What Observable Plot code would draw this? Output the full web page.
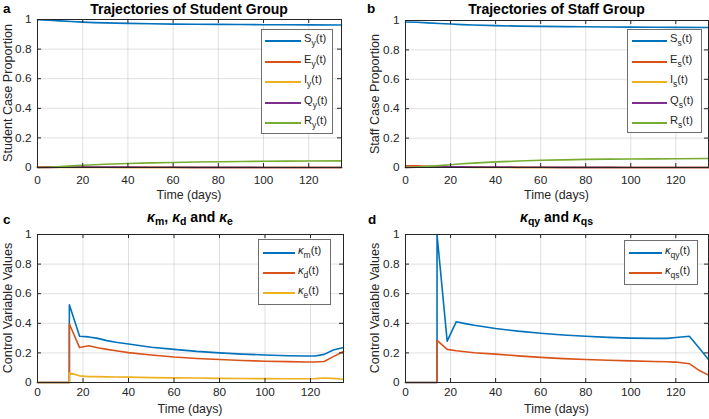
<!DOCTYPE html>
<html><head><meta charset="utf-8">
<script src="https://cdn.jsdelivr.net/npm/d3@7"></script>
<script src="https://cdn.jsdelivr.net/npm/@observablehq/plot@0.6"></script>
<style>
body{margin:0;background:#fff;font-family:"Liberation Sans",Arial,sans-serif;color:#262626}
#root{position:relative;width:709px;height:419px;overflow:hidden;background:#fff}
.pl{position:absolute}
.ttl{position:absolute;font-weight:bold;font-size:14px;color:#000;white-space:nowrap;transform:translate(-50%,-50%);line-height:1}
.ttl sub{font-size:10.5px;vertical-align:-3px}
.lab{position:absolute;font-weight:bold;font-size:13.5px;color:#000;line-height:1}
.xl{position:absolute;font-size:12.4px;white-space:nowrap;transform:translate(-50%,-50%);line-height:1;color:#262626}
.yl{position:absolute;font-size:12.6px;white-space:nowrap;transform:translate(-50%,-50%) rotate(-90deg);line-height:1;color:#262626}
.leg{position:absolute;border:1px solid #6e6e6e;background:#fff;box-sizing:border-box}
.row{position:absolute;height:0}
.row .ln{position:absolute;height:2px;top:-1px}
.row .tx{position:absolute;font-size:11.2px;white-space:nowrap;transform:translateY(-55%);line-height:1;color:#262626}
.row .tx sub{font-size:8.5px;vertical-align:-3.5px}
</style></head><body><div id="root"></div>
<script>
// ---------- data ----------
const colors = ["#0072BD", "#D95319", "#EDB120", "#7E2F8E", "#77AC30"];
const xTicks = [0, 20, 40, 60, 80, 100, 120];
const yTicks = [0, 0.2, 0.4, 0.6, 0.8, 1];
const xMax = 134.5;

// Panel a: student group
const tA = [0, 5, 10, 15, 20, 25, 30, 40, 50, 60, 70, 80, 90, 100, 110, 120, 134.5];
const Sy = [0.998, 0.995, 0.991, 0.986, 0.982, 0.979, 0.977, 0.974, 0.971, 0.969, 0.968, 0.967, 0.966, 0.965, 0.965, 0.964, 0.963];
const Ey = [0.005, 0.004, 0.004, 0.003, 0.003, 0.002, 0.002, 0.001, 0.001, 0.001, 0.0005, 0.0005, 0.0003, 0.0002, 0.0002, 0.0001, 0.0001];
const Iy = [0.001, 0.001, 0.001, 0.001, 0.001, 0.001, 0.001, 0.0008, 0.0006, 0.0004, 0.0003, 0.0002, 0.0002, 0.0001, 0.0001, 0.0001, 0.0001];
const Qy = [0, 0.001, 0.002, 0.003, 0.003, 0.003, 0.003, 0.003, 0.002, 0.002, 0.001, 0.001, 0.001, 0.0005, 0.0004, 0.0003, 0.0002];
const Ry = [0, 0.002, 0.006, 0.011, 0.015, 0.019, 0.022, 0.027, 0.031, 0.034, 0.037, 0.039, 0.041, 0.042, 0.043, 0.044, 0.045];

// Panel b: staff group
const tB = [0, 5, 10, 15, 20, 25, 30, 40, 50, 60, 70, 80, 90, 100, 110, 120, 134.5];
const Ss = [0.99, 0.988, 0.984, 0.98, 0.976, 0.972, 0.969, 0.965, 0.962, 0.96, 0.958, 0.957, 0.956, 0.955, 0.954, 0.953, 0.952];
const Es = [0.012, 0.011, 0.009, 0.007, 0.005, 0.004, 0.003, 0.002, 0.001, 0.001, 0.0005, 0.0004, 0.0003, 0.0002, 0.0002, 0.0001, 0.0001];
const Is = [0.003, 0.003, 0.003, 0.002, 0.002, 0.002, 0.001, 0.001, 0.001, 0.0005, 0.0004, 0.0003, 0.0002, 0.0002, 0.0001, 0.0001, 0.0001];
const Qs = [0, 0.002, 0.003, 0.004, 0.004, 0.004, 0.003, 0.003, 0.002, 0.002, 0.001, 0.001, 0.001, 0.0005, 0.0004, 0.0003, 0.0002];
const Rs = [0, 0.003, 0.008, 0.013, 0.019, 0.025, 0.03, 0.038, 0.044, 0.049, 0.052, 0.055, 0.057, 0.058, 0.059, 0.06, 0.061];

// Panel c: controls kappa_m, kappa_d, kappa_e
const tC = [0, 14, 14, 18.5, 22.5, 26.5, 30.5, 34.5, 40, 50, 60, 70, 80, 90, 100, 110, 118, 122, 126, 130, 134.5];
const km = [0, 0, 0.525, 0.312, 0.308, 0.298, 0.283, 0.272, 0.26, 0.238, 0.224, 0.21, 0.2, 0.192, 0.186, 0.181, 0.179, 0.179, 0.19, 0.22, 0.237];
const kd = [0, 0, 0.395, 0.236, 0.248, 0.235, 0.224, 0.214, 0.202, 0.186, 0.172, 0.162, 0.155, 0.149, 0.144, 0.141, 0.139, 0.139, 0.142, 0.175, 0.21];
const ke = [0, 0, 0.065, 0.045, 0.04, 0.04, 0.038, 0.037, 0.036, 0.033, 0.031, 0.03, 0.028, 0.027, 0.026, 0.025, 0.025, 0.026, 0.03, 0.028, 0.022];

// Panel d: controls kappa_qy, kappa_qs
const tD = [0, 14, 14, 18.5, 22.5, 26.5, 30.5, 40, 50, 60, 70, 80, 90, 100, 110, 116, 120, 126, 130, 134.5];
const kqy = [0, 0, 1.0, 0.279, 0.41, 0.398, 0.387, 0.365, 0.347, 0.333, 0.321, 0.312, 0.305, 0.3, 0.298, 0.298, 0.304, 0.312, 0.24, 0.155];
const kqs = [0, 0, 0.285, 0.224, 0.215, 0.208, 0.201, 0.192, 0.18, 0.17, 0.161, 0.155, 0.15, 0.146, 0.142, 0.14, 0.138, 0.127, 0.085, 0.05];

// ---------- layout ----------
const root = document.getElementById("root");
const font = '"Liberation Sans", Arial, sans-serif';

function panel(cfg) {
  const {left, top, w, h, mL, mR, mT, mB, series} = cfg;
  const ph = h - mT - mB, pw = w - mL - mR;
  const lineMarks = series.map(s =>
    Plot.line(s.t.map((t, i) => ({t, v: s.v[i]})), {x: "t", y: "v", stroke: s.color, strokeWidth: 1.6})
  );
  const fmt = d3.format("~g");
  const svg = Plot.plot({
    width: w, height: h, marginLeft: mL, marginRight: mR, marginTop: mT, marginBottom: mB,
    style: {fontFamily: font, fontSize: "11.8px", color: "#262626", background: "transparent", overflow: "visible"},
    x: {domain: [0, xMax], ticks: xTicks, tickSize: 0, tickPadding: cfg.xPad, label: null, tickFormat: fmt},
    y: {domain: [0, 1], ticks: yTicks, tickSize: 0, tickPadding: 6, label: null, tickFormat: fmt},
    marks: [
      Plot.ruleX(xTicks.slice(1), {x: d => d, stroke: "#000", strokeOpacity: 0.12}),
      Plot.ruleY(yTicks.slice(1, -1), {y: d => d, stroke: "#000", strokeOpacity: 0.12}),
      ...lineMarks,
      Plot.frame({stroke: "#262626"}),
      Plot.tickX(xTicks, {x: d => d, insetTop: ph - 4, stroke: "#262626"}),
      Plot.tickX(xTicks, {x: d => d, insetBottom: ph - 4, stroke: "#262626"}),
      Plot.tickY(yTicks, {y: d => d, insetRight: pw - 4, stroke: "#262626"}),
      Plot.tickY(yTicks, {y: d => d, insetLeft: pw - 4, stroke: "#262626"})
    ]
  });
  svg.classList.add("pl");
  svg.style.left = left + "px";
  svg.style.top = top + "px";
  root.appendChild(svg);

  const cx = left + mL + pw / 2, cy = top + mT + ph / 2;
  const add = (cls, html, x, y) => {
    const d = document.createElement("div");
    d.className = cls; d.innerHTML = html;
    d.style.left = x + "px"; d.style.top = y + "px";
    root.appendChild(d);
  };
  add("ttl", cfg.title, cx, cfg.titleY);
  add("lab", cfg.letter, cfg.letterX, cfg.letterY);
  add("xl", "Time (days)", cx, cfg.xlY);
  add("yl", cfg.ylabel, cfg.ylX, cy);

  const lg = cfg.legend;
  const box = document.createElement("div");
  box.className = "leg";
  box.style.left = lg.x + "px"; box.style.top = lg.y + "px";
  box.style.width = lg.w + "px"; box.style.height = lg.h + "px";
  root.appendChild(box);
  series.forEach((s, i) => {
    const r = document.createElement("div");
    r.className = "row";
    r.style.left = lg.x + "px";
    r.style.top = (lg.y + lg.first + i * lg.step) + "px";
    r.innerHTML = `<div class="ln" style="left:${lg.lx}px;width:${lg.lw}px;background:${s.color}"></div>` +
      `<div class="tx" style="left:${lg.lx + lg.lw + 3}px">${s.name}</div>`;
    root.appendChild(r);
  });
}

const kap = '<i>&kappa;</i>';
const names5 = ["S", "E", "I", "Q", "R"];

panel({
  left: 0, top: 0, w: 350, h: 205, mL: 37, mR: 9, mT: 19, mB: 38, xPad: 8,
  title: "Trajectories of Student Group", titleY: 9, letter: "a", letterX: 3, letterY: 2,
  xlY: 195, ylX: 8, ylabel: "Student Case Proportion",
  series: [Sy, Ey, Iy, Qy, Ry].map((v, i) => ({t: tA, v, color: colors[i], name: `${names5[i]}<sub>y</sub>(t)`})),
  legend: {x: 261, y: 29, w: 72, h: 105, first: 12, step: 20.5, lx: 4, lw: 36}
});
panel({
  left: 350, top: 0, w: 359, h: 205, mL: 55, mR: 1, mT: 20, mB: 38, xPad: 8,
  title: "Trajectories of Staff Group", titleY: 9, letter: "b", letterX: 367, letterY: 2,
  xlY: 195, ylX: 375, ylabel: "Staff Case Proportion",
  series: [Ss, Es, Is, Qs, Rs].map((v, i) => ({t: tB, v, color: colors[i], name: `${names5[i]}<sub>s</sub>(t)`})),
  legend: {x: 627, y: 29, w: 75, h: 104, first: 12, step: 20.5, lx: 5, lw: 35}
});
panel({
  left: 0, top: 205, w: 350, h: 214, mL: 37, mR: 7, mT: 29, mB: 37, xPad: 5,
  title: `${kap}<sub>m</sub>, ${kap}<sub>d</sub> and ${kap}<sub>e</sub>`, titleY: 218, letter: "c", letterX: 3, letterY: 213,
  xlY: 409, ylX: 8, ylabel: "Control Variable Values",
  series: [
    {t: tC, v: km, color: colors[0], name: `${kap}<sub>m</sub>(t)`},
    {t: tC, v: kd, color: colors[1], name: `${kap}<sub>d</sub>(t)`},
    {t: tC, v: ke, color: colors[2], name: `${kap}<sub>e</sub>(t)`}
  ],
  legend: {x: 258, y: 239, w: 73, h: 66, first: 13.5, step: 20.3, lx: 5, lw: 32}
});
panel({
  left: 350, top: 205, w: 359, h: 214, mL: 55, mR: 1, mT: 29, mB: 37, xPad: 5,
  title: `${kap}<sub>qy</sub> and ${kap}<sub>qs</sub>`, titleY: 218, letter: "d", letterX: 368, letterY: 213,
  xlY: 409, ylX: 375, ylabel: "Control Variable Values",
  series: [
    {t: tD, v: kqy, color: colors[0], name: `${kap}<sub>qy</sub>(t)`},
    {t: tD, v: kqs, color: colors[1], name: `${kap}<sub>qs</sub>(t)`}
  ],
  legend: {x: 624, y: 240, w: 74, h: 45, first: 12.5, step: 20.6, lx: 5, lw: 33}
});
</script>
</body></html>
